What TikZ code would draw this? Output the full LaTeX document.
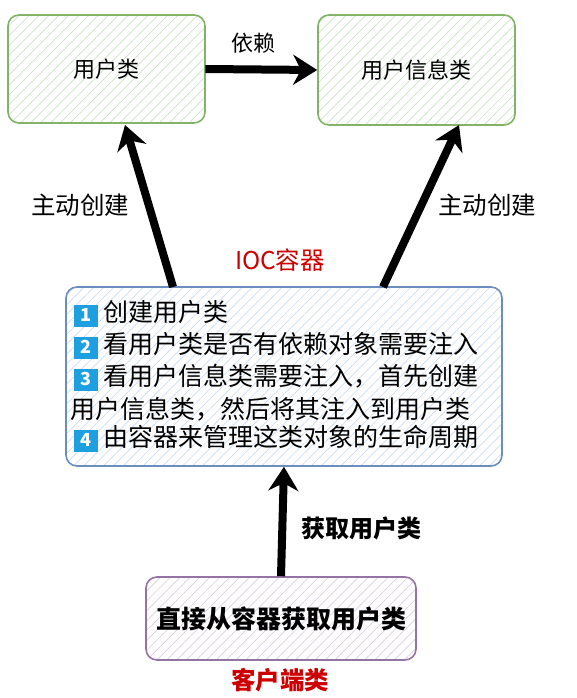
\documentclass[tikz,border=0pt]{standalone}
\usepackage{fontspec}
\setmainfont{Noto Sans CJK SC}
\usetikzlibrary{arrows.meta,patterns.meta}
\definecolor{gbord}{HTML}{82B366}
\definecolor{ghatch}{HTML}{C9E2C4}
\definecolor{bbord}{HTML}{6C8EBF}
\definecolor{bhatch}{HTML}{C9DDF5}
\definecolor{pbord}{HTML}{9673A6}
\definecolor{phatch}{HTML}{DCCDE3}
\definecolor{badgeblue}{HTML}{1E9FE0}
\definecolor{redtxt}{HTML}{CC0000}
\newcommand\badge[1]{{\setlength{\fboxsep}{3pt}\colorbox{badgeblue}{\makebox[18pt]{\rule[-2.5pt]{0pt}{16pt}\textcolor{white}{\fontsize{18}{18}\selectfont\bfseries #1}}}}}
\begin{document}
\begin{tikzpicture}[x=1pt,y=-1pt,
  box/.style={rounded corners=11pt,line width=1.6pt,inner sep=0pt},
  gbox/.style={box,draw=gbord,pattern={Lines[angle=45,distance=7pt,line width=0.7pt]},pattern color=ghatch},
  bbox/.style={box,draw=bbord,pattern={Lines[angle=45,distance=7pt,line width=0.7pt]},pattern color=bhatch},
  pbox/.style={box,draw=pbord,pattern={Lines[angle=45,distance=7pt,line width=0.7pt]},pattern color=phatch},
  txt/.style={font=\fontsize{22}{26}\selectfont,inner sep=0pt},
  lbl/.style={font=\fontsize{24.5}{28}\selectfont,inner sep=0pt},
  big/.style={font=\fontsize{25}{32}\selectfont,inner sep=0pt},
  bigarrow/.style={line width=8pt,-{Stealth[length=24pt,width=30pt]}},
]
\useasboundingbox (0,0) rectangle (577,698);
% boxes
\node[gbox,minimum width=197pt,minimum height=108pt] (u) at (106.5,69) {};
\node[txt] (ut) at (u.center) {用户类};
\node[gbox,minimum width=197pt,minimum height=110pt] (ui) at (416.5,70) {};
\node[txt] (uit) at (ui.center) {用户信息类};
\node[bbox,minimum width=436pt,minimum height=179pt] (ioc) at (284,376.5) {};
\node[pbox,minimum width=270pt,minimum height=83pt] (cl) at (281,618.5) {};
% IOC text
\node[big,anchor=west] (l1) at (74,314) {\badge{1}\hspace{5pt}创建用户类};
\node[big,anchor=west] (l2) at (74,346) {\badge{2}\hspace{5pt}看用户类是否有依赖对象需要注入};
\node[big,anchor=west] (l3) at (74,378) {\badge{3}\hspace{5pt}看用户信息类需要注入，首先创建};
\node[big,anchor=west] (l4) at (70,409) {用户信息类，然后将其注入到用户类};
\node[big,anchor=west] (l5) at (74,439) {\badge{4}\hspace{5pt}由容器来管理这类对象的生命周期};
% client text
\node[big,font=\fontsize{25}{30}\selectfont\bfseries] (clt) at (cl.center) {直接从容器获取用户类};
% labels
\node[txt] (dep) at (253,43) {依赖};
\node[lbl] (c1) at (80,205) {主动创建};
\node[lbl] (c2) at (487,205) {主动创建};
\node[lbl,text=redtxt] (iocl) at (280,260) {IOC容器};
\node[lbl,font=\fontsize{24}{28}\selectfont\bfseries] (get) at (361,528) {获取用户类};
\node[lbl,text=redtxt,font=\fontsize{24.5}{28}\selectfont\bfseries] (cll) at (280,680) {客户端类};
% arrows
\coordinate (s1) at (173,287);
\coordinate (e1) at (125,125);
\coordinate (s2) at (383,287);
\coordinate (e2) at (459,125);
\draw[bigarrow] (u.east) -- (ui.west);
\draw[bigarrow] (s1) -- (e1);
\draw[bigarrow] (s2) -- (e2);
\draw[bigarrow] (cl.north) -- (ioc.south);
\end{tikzpicture}
\end{document}
